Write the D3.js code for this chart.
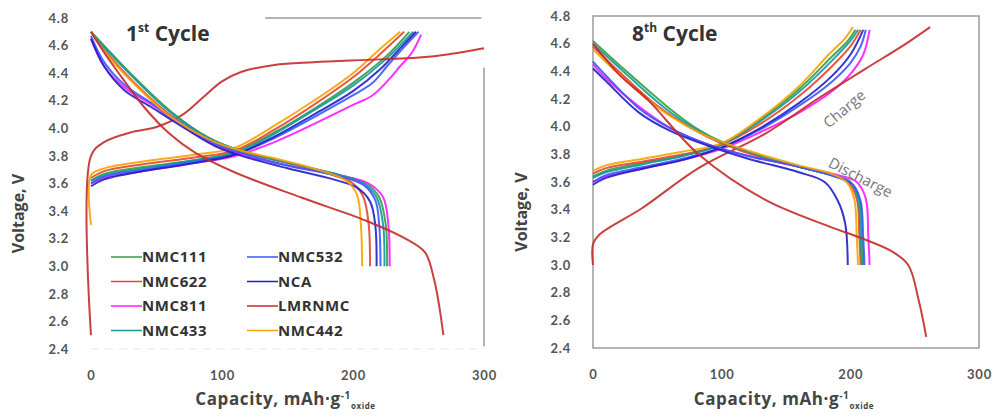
<!DOCTYPE html>
<html>
<head>
<meta charset="utf-8">
<script src="https://cdn.jsdelivr.net/npm/d3@7"></script>
<style>
  body { margin: 0; background: #fff; }
  svg { display: block; font-family: Lato, "Open Sans", sans-serif; }
</style>
</head>
<body>
<svg id="chart" width="997" height="419"></svg>
<script>
const seriesNames = ["NMC111", "NMC622", "NMC811", "NMC433", "NMC532", "NCA", "LMRNMC", "NMC442"];
const seriesColors = ["#2ea043", "#e8452c", "#ff1aff", "#14999a", "#3a56ff", "#1f1fc8", "#c42a2a", "#f5a300"];
const xTicks = [0, 100, 200, 300];
const yTicks = [2.4, 2.6, 2.8, 3.0, 3.2, 3.4, 3.6, 3.8, 4.0, 4.2, 4.4, 4.6, 4.8];

// [capacity mAh/g, voltage V]
const cycle1Charge = {
  NMC111: [[0,3.62],[10,3.67],[40,3.72],[80,3.77],[110,3.83],[140,3.97],[170,4.14],[200,4.33],[225,4.52],[243,4.7]],
  NMC622: [[0,3.64],[10,3.69],[40,3.74],[80,3.79],[110,3.84],[140,3.99],[170,4.17],[200,4.37],[222,4.55],[239,4.7]],
  NMC811: [[0,3.6],[10,3.64],[40,3.69],[80,3.75],[110,3.8],[140,3.9],[170,4.03],[200,4.17],[215,4.24],[228,4.36],[236,4.45],[245,4.55],[252,4.68]],
  NMC433: [[0,3.62],[10,3.66],[40,3.71],[80,3.77],[110,3.82],[140,3.96],[170,4.13],[200,4.31],[225,4.5],[246,4.7]],
  NMC532: [[0,3.6],[10,3.65],[40,3.7],[80,3.76],[110,3.81],[140,3.93],[170,4.08],[200,4.24],[215,4.33],[226,4.45],[240,4.6],[250,4.7]],
  NCA:    [[0,3.58],[10,3.63],[40,3.69],[80,3.75],[110,3.81],[140,3.94],[170,4.1],[200,4.27],[222,4.44],[238,4.6],[248,4.7]],
  LMRNMC: [[0,2.5],[0,3.8],[10,3.9],[30,3.97],[50,4.01],[70,4.1],[85,4.22],[100,4.34],[115,4.41],[140,4.46],[170,4.48],[220,4.5],[260,4.52],[300,4.58]],
  NMC442: [[0,3.3],[0,3.66],[10,3.71],[40,3.76],[80,3.81],[110,3.86],[140,4.02],[170,4.2],[200,4.4],[220,4.57],[236,4.7]]
};
const cycle1Discharge = {
  NMC111: [[0,4.7],[10,4.6],[30,4.4],[60,4.13],[90,3.93],[110,3.85],[150,3.75],[190,3.66],[210,3.6],[220,3.5],[225,3.3],[226,3.0]],
  NMC622: [[0,4.7],[10,4.57],[30,4.36],[60,4.1],[90,3.92],[110,3.84],[150,3.75],[185,3.66],[200,3.6],[208,3.5],[212,3.3],[213,3.0]],
  NMC811: [[0,4.65],[10,4.45],[25,4.3],[45,4.18],[70,4.02],[95,3.88],[115,3.81],[150,3.73],[190,3.66],[212,3.6],[223,3.5],[227,3.3],[228,3.0]],
  NMC433: [[0,4.7],[10,4.59],[30,4.39],[60,4.12],[90,3.93],[110,3.85],[150,3.75],[190,3.66],[208,3.6],[218,3.5],[223,3.3],[224,3.0]],
  NMC532: [[0,4.67],[10,4.48],[25,4.32],[45,4.19],[70,4.03],[95,3.89],[115,3.82],[150,3.73],[190,3.65],[208,3.59],[217,3.48],[220,3.3],[221,3.0]],
  NCA:    [[0,4.65],[10,4.45],[25,4.28],[45,4.16],[70,4.01],[95,3.87],[115,3.8],[150,3.71],[185,3.63],[203,3.57],[213,3.47],[217,3.3],[218,3.0]],
  LMRNMC: [[0,4.7],[10,4.55],[25,4.35],[40,4.16],[60,3.96],[80,3.82],[110,3.68],[160,3.5],[210,3.33],[240,3.2],[255,3.1],[262,2.9],[266,2.7],[269,2.5]],
  NMC442: [[0,4.7],[10,4.56],[30,4.35],[60,4.09],[90,3.92],[110,3.85],[150,3.76],[180,3.68],[195,3.62],[203,3.52],[206,3.3],[207,3.0]]
};
const cycle8Charge = {
  NMC111: [[0,3.64],[10,3.68],[40,3.74],[70,3.79],[100,3.87],[130,4.05],[160,4.27],[185,4.5],[198,4.62],[204,4.7]],
  NMC622: [[0,3.66],[10,3.7],[40,3.75],[70,3.8],[100,3.87],[130,4.02],[160,4.22],[185,4.43],[200,4.58],[208,4.7]],
  NMC811: [[0,3.6],[10,3.64],[40,3.7],[70,3.76],[100,3.84],[130,3.96],[160,4.1],[185,4.25],[200,4.38],[210,4.52],[215,4.7]],
  NMC433: [[0,3.63],[10,3.67],[40,3.73],[70,3.79],[100,3.87],[130,4.04],[160,4.25],[185,4.47],[200,4.62],[206,4.7]],
  NMC532: [[0,3.6],[10,3.65],[40,3.71],[70,3.77],[100,3.85],[130,3.98],[160,4.15],[185,4.32],[200,4.46],[208,4.58],[212,4.7]],
  NCA:    [[0,3.58],[10,3.63],[40,3.7],[70,3.76],[100,3.85],[130,3.99],[160,4.17],[185,4.36],[200,4.52],[210,4.7]],
  LMRNMC: [[0,3.0],[0,3.15],[5,3.22],[38,3.41],[82,3.7],[134,3.95],[176,4.21],[212,4.42],[240,4.58],[262,4.72]],
  NMC442: [[0,3.68],[10,3.72],[40,3.77],[70,3.82],[100,3.88],[130,4.06],[160,4.29],[183,4.52],[196,4.64],[202,4.72]]
};
const cycle8Discharge = {
  NMC111: [[0,4.62],[20,4.45],[57,4.15],[80,3.99],[100,3.89],[130,3.79],[160,3.71],[185,3.65],[200,3.6],[207,3.48],[209,3.2],[210,3.0]],
  NMC622: [[0,4.58],[20,4.4],[50,4.15],[80,3.97],[100,3.88],[130,3.78],[160,3.71],[185,3.65],[198,3.6],[205,3.48],[207,3.2],[208,3.0]],
  NMC811: [[0,4.45],[10,4.35],[35,4.15],[60,3.99],[90,3.87],[120,3.79],[160,3.71],[190,3.65],[205,3.6],[212,3.48],[214,3.2],[215,3.0]],
  NMC433: [[0,4.6],[20,4.43],[55,4.14],[80,3.98],[100,3.89],[130,3.79],[160,3.71],[185,3.65],[200,3.6],[206,3.48],[208,3.2],[209,3.0]],
  NMC532: [[0,4.47],[10,4.37],[36,4.13],[60,3.99],[90,3.87],[120,3.79],[160,3.71],[188,3.64],[202,3.58],[208,3.46],[210,3.2],[211,3.0]],
  NCA:    [[0,4.42],[10,4.33],[36,4.1],[60,3.97],[90,3.86],[120,3.77],[160,3.67],[180,3.6],[190,3.47],[196,3.3],[198,3.0]],
  LMRNMC: [[0,4.6],[20,4.38],[43,4.19],[82,3.8],[134,3.47],[186,3.27],[207,3.2],[232,3.1],[245,3.0],[253,2.75],[259,2.48]],
  NMC442: [[0,4.56],[20,4.38],[50,4.14],[80,3.97],[100,3.89],[130,3.8],[160,3.72],[185,3.66],[197,3.6],[203,3.48],[205,3.2],[206,3.0]]
};

const svg = d3.select("#chart");
const color = d3.scaleOrdinal().domain(seriesNames).range(seriesColors);

function drawPanel(opt) {
  const x = d3.scaleLinear().domain([0, 300]).range([opt.x0, opt.x1]);
  const y = d3.scaleLinear().domain([2.4, 4.8]).range([opt.y1, opt.y0]);
  const g = svg.append("g");

  // frame
  if (opt.fullFrame) {
    g.append("rect")
      .attr("x", x(0)).attr("y", y(4.8))
      .attr("width", x(300) - x(0)).attr("height", y(2.4) - y(4.8))
      .attr("fill", "none").attr("stroke", "#9a9a9a").attr("stroke-width", 1.5);
  } else {
    g.append("line").attr("x1", x(133)).attr("x2", x(298)).attr("y1", y(4.8)).attr("y2", y(4.8))
      .attr("stroke", "#9a9a9a").attr("stroke-width", 1.5);
    g.append("line").attr("x1", x(300)).attr("x2", x(300)).attr("y1", y(4.44)).attr("y2", y(2.42))
      .attr("stroke", "#9a9a9a").attr("stroke-width", 1.5);
    g.append("line").attr("x1", x(0)).attr("x2", x(300)).attr("y1", y(2.4)).attr("y2", y(2.4))
      .attr("stroke", "#e6e6e6").attr("stroke-width", 1).attr("stroke-dasharray", "8,6");
  }

  // axes (labels only)
  const xAxis = g.append("g")
    .attr("transform", `translate(0,${y(2.4) + 19})`)
    .call(d3.axisBottom(x).tickValues(xTicks).tickSize(0).tickFormat(d3.format("d")));
  const yAxis = g.append("g")
    .attr("transform", `translate(${x(0) - 19},0)`)
    .call(d3.axisLeft(y).tickValues(yTicks).tickSize(0).tickFormat(d3.format(".1f")));
  [xAxis, yAxis].forEach(a => {
    a.select(".domain").remove();
    a.selectAll("text").attr("fill", "#555").attr("font-size", 13).attr("font-weight", 700)
      .attr("font-family", "Lato, sans-serif").attr("letter-spacing", 0.8);
  });

  const line = d3.line().x(d => x(d[0])).y(d => y(d[1])).curve(d3.curveCatmullRom.alpha(0.5));
  const order = seriesNames.filter(n => n !== "LMRNMC").concat(["LMRNMC"]);
  [opt.charge, opt.discharge].forEach(set => {
    order.forEach(name => {
      g.append("path")
        .datum(set[name])
        .attr("d", line)
        .attr("fill", "none")
        .attr("stroke", color(name))
        .attr("stroke-width", 2)
        .attr("stroke-linejoin", "round")
        .attr("opacity", 0.9);
    });
  });

  // panel title
  const t = g.append("text")
    .attr("x", opt.titleX).attr("y", 41)
    .attr("font-size", 21).attr("font-weight", 700).attr("fill", "#333")
    .attr("font-family", "'Open Sans', sans-serif");
  t.append("tspan").text(opt.titleNum);
  t.append("tspan").attr("font-size", 12).attr("dy", -9).text(opt.titleSup);
  t.append("tspan").attr("dy", 9).text(" Cycle");

  // axis titles
  g.append("text")
    .attr("transform", `translate(${opt.yTitleX},${(y(4.8) + y(2.4)) / 2 + 30}) rotate(-90)`)
    .attr("text-anchor", "middle")
    .attr("font-size", 16).attr("font-weight", 700).attr("fill", "#444")
    .attr("font-family", "'Open Sans', sans-serif")
    .text("Voltage, V");

  const xt = g.append("text")
    .attr("x", x(150) - 2).attr("y", 405)
    .attr("text-anchor", "middle")
    .attr("font-size", 17).attr("font-weight", 700).attr("fill", "#444")
    .attr("letter-spacing", 0.6)
    .attr("font-family", "'Open Sans', sans-serif");
  xt.append("tspan").text("Capacity, mAh·g");
  xt.append("tspan").attr("font-size", 10).attr("dy", -6).text("-1");
  xt.append("tspan").attr("font-size", 8).attr("dy", 10).text("oxide");

  return { g, x, y };
}

const left = drawPanel({
  x0: 91, x1: 484, y0: 18, y1: 349, fullFrame: false,
  charge: cycle1Charge, discharge: cycle1Discharge,
  titleX: 126, titleNum: "1", titleSup: "st", yTitleX: 24
});

const right = drawPanel({
  x0: 593, x1: 979, y0: 16, y1: 348, fullFrame: true,
  charge: cycle8Charge, discharge: cycle8Discharge,
  titleX: 632, titleNum: "8", titleSup: "th", yTitleX: 527
});

// legend in left panel
const legendCols = [seriesNames.slice(0, 4), seriesNames.slice(4)];
const legend = left.g.append("g");
legendCols.forEach((col, ci) => {
  col.forEach((name, ri) => {
    const lx = 111 + ci * 136, ly = 257 + ri * 24.5;
    legend.append("line")
      .attr("x1", lx).attr("x2", lx + 31).attr("y1", ly).attr("y2", ly)
      .attr("stroke", color(name)).attr("stroke-width", 1.5);
    legend.append("text")
      .attr("x", lx + 31).attr("y", ly + 5)
      .attr("font-size", 15).attr("font-weight", 700).attr("fill", "#333")
      .attr("letter-spacing", 0.6)
      .attr("font-family", "'Open Sans', sans-serif")
      .text(name);
  });
});

// curve annotations in right panel
right.g.append("text")
  .attr("transform", `translate(${right.x(198)},${right.y(4.1)}) rotate(-40)`)
  .attr("text-anchor", "middle")
  .attr("font-size", 15).attr("fill", "#777")
  .attr("font-family", "'Open Sans', sans-serif")
  .text("Charge");
right.g.append("text")
  .attr("transform", `translate(${right.x(206)},${right.y(3.6)}) rotate(27)`)
  .attr("text-anchor", "middle")
  .attr("font-size", 15).attr("fill", "#777")
  .attr("font-family", "'Open Sans', sans-serif")
  .text("Discharge");
</script>
</body>
</html>
